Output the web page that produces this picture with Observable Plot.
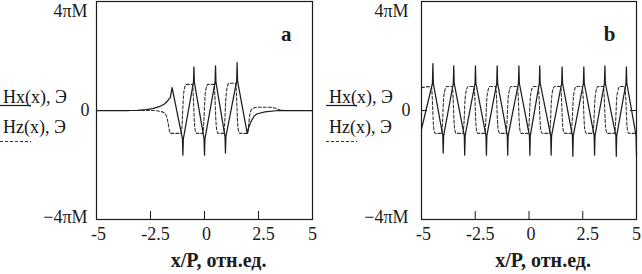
<!DOCTYPE html>
<html>
<head>
<meta charset="utf-8">
<script src="https://cdn.jsdelivr.net/npm/d3@7"></script>
<script src="https://cdn.jsdelivr.net/npm/@observablehq/plot@0.6"></script>
<style>
  body { margin: 0; background: #fff; }
  #wrap { position: relative; width: 642px; height: 274px; overflow: hidden; background: #fff; font-family: "Liberation Serif", serif; }
  .panel { position: absolute; top: 0; }
  .leg { position: absolute; font-size: 18px; line-height: 18px; color: #161616; white-space: nowrap; }
  .legline { position: absolute; }
</style>
</head>
<body>
<div id="wrap"></div>
<script>
// ---- data (x in units of P, field in units of 4πM) ----
const xTicks = [-5, -2.5, 0, 2.5, 5];
const xTickLabels = ["-5", "-2.5", "0", "2.5", "5"];
const yTicks = [-1, 0, 1];
const yTickLabels = ["\u22124\u03c0M", "0", "4\u03c0M"];
const innerTicks = [-2.5, 0, 2.5];
const xTitle = "x/P, отн.ед.";
const legendHx = "Hx(x), Э";
const legendHz = "Hz(x), Э";
const panelLabels = ["a", "b"];

// Panel a: Hx (solid)
const hxA = [
  [-5, 0], [-3.5, 0], [-3.1, 0.002], [-2.7, 0.008], [-2.4, 0.018], [-2.1, 0.035], [-1.85, 0.06], [-1.7, 0.09], [-1.58, 0.12],
  [-1.5, 0.21],
  [-1.02, -0.26], [-1.0, -0.41], [-0.98, -0.26],
  [-0.51, 0.26], [-0.49, 0.40], [-0.47, 0.26],
  [-0.02, -0.26], [0.0, -0.41], [0.02, -0.26],
  [0.49, 0.26], [0.51, 0.41], [0.53, 0.26],
  [0.95, -0.24], [0.97, -0.39], [0.99, -0.24],
  [1.49, 0.27], [1.51, 0.44], [1.53, 0.27],
  [1.96, -0.19], [1.99, -0.21], [2.04, -0.16], [2.13, -0.11], [2.3, -0.05], [2.45, -0.03], [2.8, -0.012], [3.4, 0], [5, 0]
];
// Panel a: Hz (dashed)
const hzA = [
  [-5, 0], [-3.2, 0], [-2.4, 0], [-2.0, -0.01], [-1.85, -0.025], [-1.75, -0.06], [-1.68, -0.12], [-1.63, -0.18], [-1.56, -0.21], [-1.08, -0.21],
  [-1.03, -0.1], [-0.99, 0.08], [-0.94, 0.19], [-0.84, 0.24], [-0.56, 0.24],
  [-0.52, 0.14], [-0.48, -0.06], [-0.44, -0.17], [-0.37, -0.21], [-0.08, -0.21],
  [-0.03, -0.1], [0.01, 0.08], [0.06, 0.19], [0.16, 0.24], [0.44, 0.24],
  [0.48, 0.14], [0.52, -0.06], [0.56, -0.17], [0.63, -0.21], [0.89, -0.21],
  [0.94, -0.1], [0.98, 0.08], [1.03, 0.19], [1.13, 0.25], [1.44, 0.25],
  [1.48, 0.15], [1.52, -0.06], [1.56, -0.17], [1.63, -0.21], [1.98, -0.21],
  [2.04, -0.14], [2.09, -0.05], [2.15, 0.0], [2.25, 0.02], [2.45, 0.03], [3.0, 0.03], [3.3, 0.02], [3.5, 0.005], [3.8, 0], [5, 0]
];
// Panel b: Hx (solid)
const hxB = [
  [-5.0, -0.17],
  [-4.49, 0.25], [-4.47, 0.43], [-4.45, 0.25],
  [-4.01, -0.23], [-3.99, -0.39], [-3.97, -0.23],
  [-3.52, 0.25], [-3.50, 0.41], [-3.48, 0.25],
  [-3.01, -0.23], [-2.99, -0.41], [-2.97, -0.23],
  [-2.51, 0.25], [-2.49, 0.41], [-2.47, 0.25],
  [-2.00, -0.23], [-1.98, -0.41], [-1.96, -0.23],
  [-1.50, 0.25], [-1.48, 0.41], [-1.46, 0.25],
  [-1.01, -0.23], [-0.99, -0.41], [-0.97, -0.23],
  [-0.49, 0.25], [-0.47, 0.41], [-0.45, 0.25],
  [0.02, -0.23], [0.04, -0.41], [0.06, -0.23],
  [0.48, 0.25], [0.50, 0.41], [0.52, 0.25],
  [1.01, -0.23], [1.03, -0.41], [1.05, -0.23],
  [1.52, 0.25], [1.54, 0.40], [1.56, 0.25],
  [2.02, -0.23], [2.04, -0.42], [2.06, -0.23],
  [2.53, 0.25], [2.55, 0.40], [2.57, 0.25],
  [3.03, -0.23], [3.05, -0.41], [3.07, -0.23],
  [3.51, 0.25], [3.53, 0.41], [3.55, 0.25],
  [4.04, -0.23], [4.06, -0.42], [4.08, -0.23],
  [4.51, 0.25], [4.53, 0.40], [4.55, 0.25],
  [4.98, -0.23], [5.0, -0.41]
];
// Panel b: Hz (dashed)
const hzB = [
  [-5.0, 0.21],
  [-4.54, 0.22], [-4.50, 0.12], [-4.46, -0.08], [-4.42, -0.18], [-4.35, -0.21],
  [-4.07, -0.21], [-4.02, -0.10], [-3.98, 0.08], [-3.93, 0.17], [-3.83, 0.22],
  [-3.57, 0.22], [-3.53, 0.12], [-3.49, -0.08], [-3.45, -0.18], [-3.38, -0.21],
  [-3.07, -0.21], [-3.02, -0.10], [-2.98, 0.08], [-2.93, 0.17], [-2.83, 0.22],
  [-2.56, 0.22], [-2.52, 0.12], [-2.48, -0.08], [-2.44, -0.18], [-2.37, -0.21],
  [-2.06, -0.21], [-2.01, -0.10], [-1.97, 0.08], [-1.92, 0.17], [-1.82, 0.22],
  [-1.55, 0.22], [-1.51, 0.12], [-1.47, -0.08], [-1.43, -0.18], [-1.36, -0.21],
  [-1.07, -0.21], [-1.02, -0.10], [-0.98, 0.08], [-0.93, 0.17], [-0.83, 0.22],
  [-0.54, 0.22], [-0.50, 0.12], [-0.46, -0.08], [-0.42, -0.18], [-0.35, -0.21],
  [-0.04, -0.21], [0.01, -0.10], [0.05, 0.08], [0.10, 0.17], [0.20, 0.22],
  [0.43, 0.22], [0.47, 0.12], [0.51, -0.08], [0.55, -0.18], [0.62, -0.21],
  [0.95, -0.21], [1.00, -0.10], [1.04, 0.08], [1.09, 0.17], [1.19, 0.22],
  [1.47, 0.22], [1.51, 0.12], [1.55, -0.08], [1.59, -0.18], [1.66, -0.21],
  [1.96, -0.21], [2.01, -0.10], [2.05, 0.08], [2.10, 0.17], [2.20, 0.22],
  [2.48, 0.22], [2.52, 0.12], [2.56, -0.08], [2.60, -0.18], [2.67, -0.21],
  [2.97, -0.21], [3.02, -0.10], [3.06, 0.08], [3.11, 0.17], [3.21, 0.22],
  [3.46, 0.22], [3.50, 0.12], [3.54, -0.08], [3.58, -0.18], [3.65, -0.21],
  [3.98, -0.21], [4.03, -0.10], [4.07, 0.08], [4.12, 0.17], [4.22, 0.22],
  [4.46, 0.22], [4.50, 0.12], [4.54, -0.08], [4.58, -0.18], [4.65, -0.21],
  [4.94, -0.21], [5.0, -0.19]
];

const wrap = document.getElementById("wrap");
const INK = "#1c1c1c";

function panel({hx, hz, label, left, width, marginLeft, marginRight, yLabelGap}) {
  const height = 274, marginTop = 1, marginBottom = 55;
  const innerH = height - marginTop - marginBottom;
  const innerW = width - marginLeft - marginRight;
  const svg = Plot.plot({
    width, height, marginLeft, marginRight, marginTop, marginBottom,
    style: {fontFamily: "'Liberation Serif', serif", background: "white", color: INK, overflow: "visible"},
    x: {domain: [-5, 5], axis: null},
    y: {domain: [-1, 1], axis: null},
    marks: [
      Plot.line(hz, {x: d => d[0], y: d => d[1], stroke: "#333", strokeWidth: 1.1, strokeDasharray: "3,2", curve: "monotone-x"}),
      Plot.line(hx, {x: d => d[0], y: d => d[1], stroke: INK, strokeWidth: 1.25}),
      Plot.frame({stroke: INK, strokeWidth: 1.2}),
      Plot.ruleX(innerTicks, {x: d => d, stroke: INK, insetTop: innerH - 8}),
      Plot.ruleY([0], {y: d => d, stroke: INK, insetRight: innerW - 6}),
      Plot.ruleY([0], {y: d => d, stroke: INK, insetLeft: innerW - 6}),
      Plot.text(xTicks, {x: d => d, text: (d, i) => xTickLabels[i], frameAnchor: "bottom", dy: 20, fontSize: 18, fill: INK}),
      Plot.text(yTicks, {y: d => d, text: (d, i) => yTickLabels[i], frameAnchor: "left", dx: -yLabelGap, textAnchor: "end",
        fontSize: 18, fill: INK}),
      Plot.text([xTitle], {text: d => d, frameAnchor: "bottom", dy: 47, dx: 14, fontSize: 20, fontWeight: "bold", fill: INK,
        letterSpacing: "0.4px"}),
      Plot.text([label], {text: d => d, frameAnchor: "top-right", dx: -21, dy: 25, fontSize: 21, fontWeight: "bold", fill: INK})
    ]
  });
  // nudge labels like the original: end labels of the y axis inward, x labels slightly right
  svg.querySelectorAll("text").forEach(t => {
    const s = t.textContent;
    if (s === yTickLabels[2]) t.setAttribute("dy", "10");
    if (s === yTickLabels[0]) t.setAttribute("dy", "-2");
    if (s === "-2.5" || s === "2.5") t.setAttribute("dx", "5");
    else if (s === "-5" || s === "0") t.setAttribute("dx", "2");
  });
  svg.classList.add("panel");
  svg.style.left = left + "px";
  wrap.appendChild(svg);
}

panel({hx: hxA, hz: hzA, label: panelLabels[0], left: 0, width: 320, marginLeft: 96, marginRight: 8, yLabelGap: 9});
panel({hx: hxB, hz: hzB, label: panelLabels[1], left: 320, width: 322, marginLeft: 101, marginRight: 6, yLabelGap: 13});

function legend(x0) {
  const a = document.createElement("div");
  a.className = "leg"; a.textContent = legendHx;
  a.style.left = (x0 + 3) + "px"; a.style.top = "88px";
  wrap.appendChild(a);
  const b = document.createElement("div");
  b.className = "leg"; b.textContent = legendHz;
  b.style.left = (x0 + 3) + "px"; b.style.top = "118px";
  wrap.appendChild(b);
  const ns = "http://www.w3.org/2000/svg";
  const s = document.createElementNS(ns, "svg");
  s.setAttribute("width", 36); s.setAttribute("height", 50);
  s.classList.add("legline");
  s.style.left = x0 + "px"; s.style.top = "100px";
  const l1 = document.createElementNS(ns, "line");
  l1.setAttribute("x1", 0); l1.setAttribute("x2", 31); l1.setAttribute("y1", 5.5); l1.setAttribute("y2", 5.5);
  l1.setAttribute("stroke", INK); l1.setAttribute("stroke-width", 1.2);
  const l2 = document.createElementNS(ns, "line");
  l2.setAttribute("x1", 0); l2.setAttribute("x2", 31); l2.setAttribute("y1", 41.5); l2.setAttribute("y2", 41.5);
  l2.setAttribute("stroke", "#333"); l2.setAttribute("stroke-width", 1.1); l2.setAttribute("stroke-dasharray", "3,2");
  s.appendChild(l1); s.appendChild(l2);
  wrap.appendChild(s);
}
legend(0);
legend(326);
</script>
</body>
</html>
